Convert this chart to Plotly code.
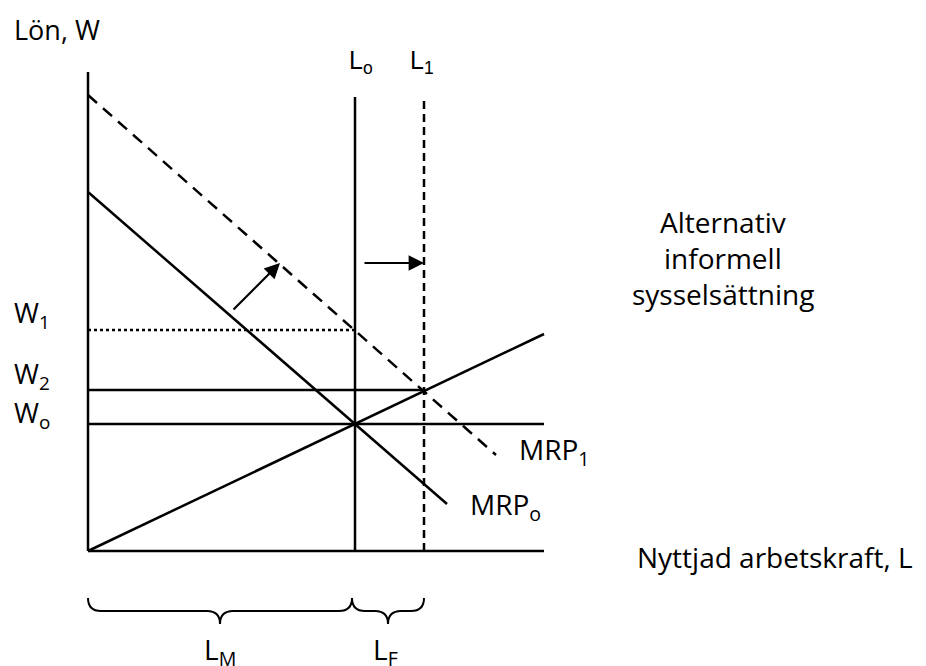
import plotly.graph_objects as go

# ---- data (labour on x, wage on y) ----
L_axis_end = 45.6
W_axis_top = 47.9
L0 = 26.7
L1 = 33.6
W0 = 12.7
W2 = 16.1
W1 = 22.1
vert_top = 45.4

mrp0_x = [0, 35.9]
mrp0_y = [35.9, 4.7]
mrp1_x = [0, 40.8]
mrp1_y = [45.6, 9.6]
supply_x = [0, 45.6]
supply_y = [0, 21.7]

shift_arrow_from = (14.4, 24.0)
shift_arrow_to = (19.2, 28.8)
lshift_from = (27.5, 28.8)
lshift_to = (33.6, 28.8)

brace_spans = [(0, L0 - 0.3), (L0 - 0.3, L1)]
brace_top, brace_mid, brace_tip = -4.7, -6.0, -7.3

FONT = "Open Sans"
BLACK = "#000000"

fig = go.Figure()

def line(x, y, dash="solid", width=2.5):
    fig.add_trace(go.Scatter(x=x, y=y, mode="lines",
                             line=dict(color=BLACK, width=width, dash=dash),
                             hoverinfo="skip", showlegend=False))

# axes
line([0, 0], [0, W_axis_top])
line([0, L_axis_end], [0, 0])
# horizontal wage lines
line([0, L_axis_end], [W0, W0])
line([0, L1], [W2, W2])
line([0, L0], [W1, W1], dash="3px,3px")
# verticals
line([L0, L0], [0, vert_top])
line([L1, L1], [0, vert_top], dash="8px,5px")
# curves
line(mrp0_x, mrp0_y)
line(mrp1_x, mrp1_y, dash="12px,8px")
line(supply_x, supply_y)

# braces
r = 1.3
for a, b in brace_spans:
    c = (a + b) / 2
    path = (f"M {a},{brace_top} Q {a},{brace_mid} {a + r},{brace_mid} "
            f"L {c - r},{brace_mid} Q {c},{brace_mid} {c},{brace_tip} "
            f"Q {c},{brace_mid} {c + r},{brace_mid} "
            f"L {b - r},{brace_mid} Q {b},{brace_mid} {b},{brace_top}")
    fig.add_shape(type="path", path=path, xref="x", yref="y",
                  line=dict(color=BLACK, width=2))

# arrows
for (x0, y0), (x1, y1) in [(shift_arrow_from, shift_arrow_to), (lshift_from, lshift_to)]:
    fig.add_annotation(x=x1, y=y1, ax=x0, ay=y0, xref="x", yref="y",
                       axref="x", ayref="y", text="", showarrow=True,
                       arrowhead=2, arrowsize=1.4, arrowwidth=2.2, arrowcolor=BLACK)

def label(text, x, y, size=28, xanchor="center", family=FONT):
    fig.add_annotation(x=x, y=y, xref="x", yref="y", text=text, showarrow=False,
                       xanchor=xanchor, yanchor="middle",
                       font=dict(family=family, size=size, color=BLACK))

label("Lön, W", -7.6, 52.2, size=27, xanchor="left")
label("L<sub>o</sub>", L0 + 0.6, 48.9, size=25, family="Liberation Sans")
label("L<sub>1</sub>", L1 - 0.2, 48.9, size=25, family="Liberation Sans")
label("W<sub>1</sub>", -7.6, 23.7, size=27, xanchor="left")
label("W<sub>2</sub>", -7.6, 17.6, size=27, xanchor="left")
label("W<sub>o</sub>", -7.6, 13.7, size=27, xanchor="left")
label("Alternativ", 63.5, 32.9)
label("informell", 63.5, 29.3)
label("sysselsättning", 63.5, 25.7)
label("MRP<sub>1</sub>", 42.9, 10.0, xanchor="left")
label("MRP<sub>o</sub>", 38.0, 4.5, xanchor="left")
label("Nyttjad arbetskraft, L", 54.7, -0.6, xanchor="left")
label("L<sub>M</sub>", 13.2, -10.0)
label("L<sub>F</sub>", 29.7, -10.0)

fig.update_layout(
    width=926, height=666,
    margin=dict(l=0, r=0, t=0, b=0),
    paper_bgcolor="white", plot_bgcolor="white",
    xaxis=dict(range=[-8.0, 84.6], visible=False, fixedrange=True),
    yaxis=dict(range=[-12.3, 54.3], visible=False, fixedrange=True),
    showlegend=False,
)

fig.write_html("out.html")
